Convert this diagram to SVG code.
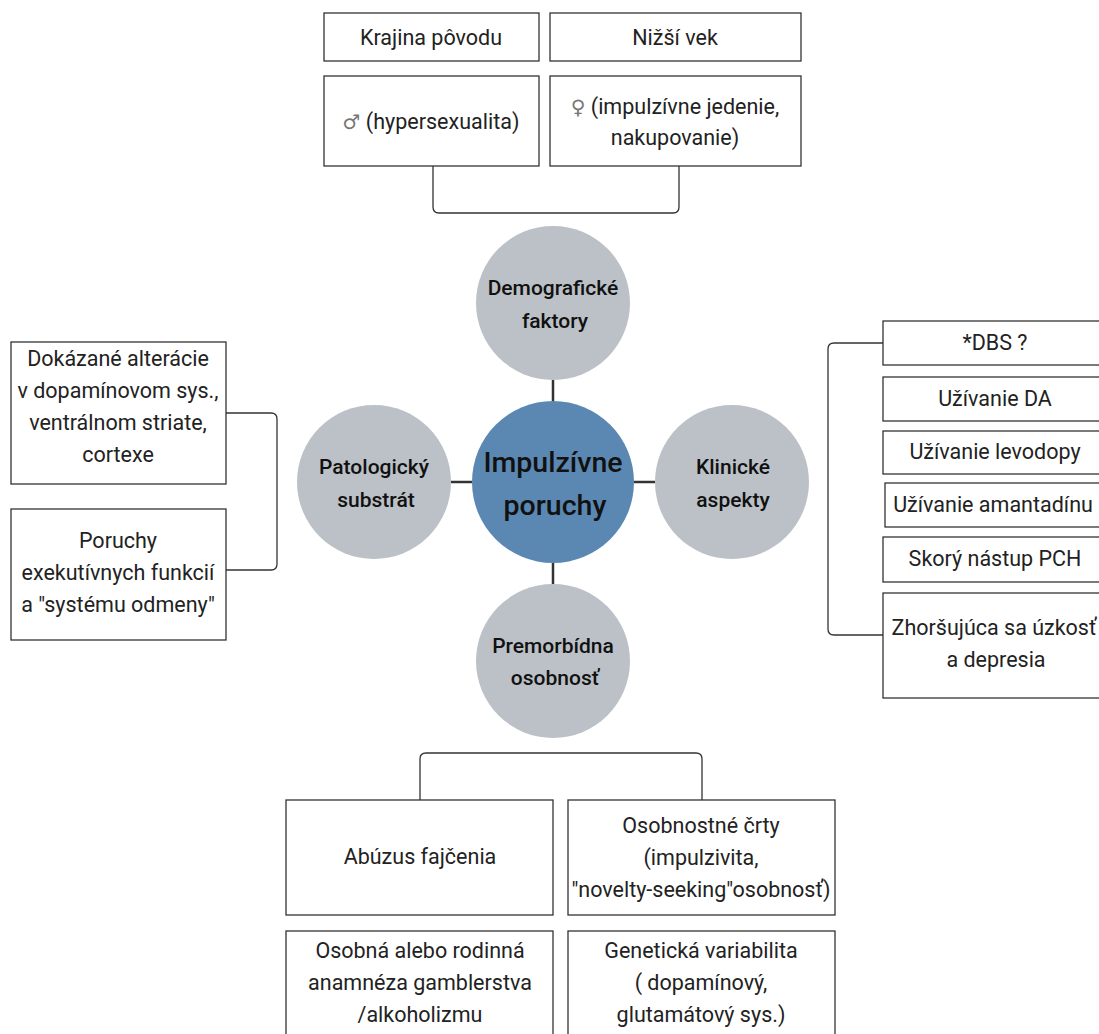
<svg xmlns="http://www.w3.org/2000/svg" width="1099" height="1034" viewBox="0 0 1099 1034">
<style>
.box{fill:#fff;stroke:#333;stroke-width:1.3}
.t{font-family:Roboto,"Liberation Sans",sans-serif;font-size:21.5px;fill:#222;text-anchor:middle}
.ct{font-family:Roboto,"Liberation Sans",sans-serif;font-size:21px;font-weight:500;fill:#111;text-anchor:middle}
.sym{fill:#777;font-family:"DejaVu Sans",sans-serif;font-size:20px}
.hub{fill:#5b88b3}
.sat{fill:#bcc1c7}
.link{stroke:#333;stroke-width:2.5;fill:none}
.br{stroke:#333;stroke-width:1.3;fill:none}
</style>
<rect width="1099" height="1034" fill="#fff"/>
<g id="connectors">
<line class="link" x1="553" y1="380" x2="553" y2="402"/>
<line class="link" x1="553" y1="563" x2="553" y2="585"/>
<line class="link" x1="451" y1="482" x2="472" y2="482"/>
<line class="link" x1="634" y1="482" x2="655" y2="482"/>
<path class="br" d="M433 166 V207 Q433 213 439 213 H673 Q679 213 679 207 V166"/>
<path class="br" d="M226 413 H271 Q277 413 277 419 V564 Q277 570 271 570 H226"/>
<path class="br" d="M883 343 H834 Q828 343 828 349 V629 Q828 635 834 635 H883"/>
<path class="br" d="M420 800 V759 Q420 753 426 753 H696 Q702 753 702 759 V800"/>
</g>
<g id="hub"><circle class="hub" cx="553" cy="482" r="81"/>
<text class="ct" style="font-size:28.5px" x="553" y="472">Impulzívne</text>
<text class="ct" style="font-size:28.5px" x="555" y="515">poruchy</text></g>
<g id="demograficke"><circle class="sat" cx="553" cy="303" r="77"/>
<text class="ct" x="553" y="295">Demografické</text><text class="ct" x="555" y="328">faktory</text></g>
<g id="patologicky"><circle class="sat" cx="374" cy="482" r="77"/>
<text class="ct" x="374" y="474">Patologický</text><text class="ct" x="376" y="507">substrát</text></g>
<g id="klinicke"><circle class="sat" cx="732" cy="482" r="77"/>
<text class="ct" x="733" y="474">Klinické</text><text class="ct" x="733" y="507">aspekty</text></g>
<g id="premorbidna"><circle class="sat" cx="553" cy="661" r="77"/>
<text class="ct" x="553" y="653">Premorbídna</text><text class="ct" x="555" y="685">osobnosť</text></g>
<g id="krajina"><rect class="box" x="324" y="13" width="215" height="48"/><text class="t" x="431" y="45">Krajina pôvodu</text></g>
<g id="nizsi"><rect class="box" x="550" y="13" width="251" height="48"/><text class="t" x="675" y="45">Nižší vek</text></g>
<g id="muz"><rect class="box" x="324" y="76" width="215" height="90"/><text class="t" x="431" y="129"><tspan class="sym">♂</tspan> (hypersexualita)</text></g>
<g id="zena"><rect class="box" x="550" y="76" width="251" height="90"/><text class="t" x="675" y="114"><tspan class="sym">♀</tspan> (impulzívne jedenie,</text><text class="t" x="675" y="145">nakupovanie)</text></g>
<g id="dokazane"><rect class="box" x="11" y="342" width="215" height="142"/>
<text class="t" x="118" y="366">Dokázané alterácie</text><text class="t" x="118" y="398">v dopamínovom sys.,</text><text class="t" x="118" y="430">ventrálnom striate,</text><text class="t" x="118" y="462">cortexe</text></g>
<g id="poruchy"><rect class="box" x="11" y="509" width="215" height="131"/>
<text class="t" x="118" y="548">Poruchy</text><text class="t" x="118" y="580">exekutívnych funkcií</text><text class="t" x="118" y="612">a "systému odmeny"</text></g>
<g id="dbs"><rect class="box" x="883" y="321" width="225" height="44"/><text class="t" x="995" y="350">*DBS ?</text></g>
<g id="da"><rect class="box" x="883" y="377" width="225" height="44"/><text class="t" x="995" y="406">Užívanie DA</text></g>
<g id="levodopa"><rect class="box" x="883" y="431" width="225" height="43"/><text class="t" x="995" y="459">Užívanie levodopy</text></g>
<g id="amantadin"><rect class="box" x="885" y="483" width="225" height="44"/><text class="t" x="993" y="512">Užívanie amantadínu</text></g>
<g id="skory"><rect class="box" x="883" y="537" width="225" height="45"/><text class="t" x="995" y="566">Skorý nástup PCH</text></g>
<g id="zhorsujuca"><rect class="box" x="883" y="593" width="225" height="105"/><text class="t" x="994" y="635">Zhoršujúca sa úzkosť</text><text class="t" x="996" y="667">a depresia</text></g>
<g id="abuzus"><rect class="box" x="286" y="800" width="267" height="115"/><text class="t" x="420" y="864">Abúzus fajčenia</text></g>
<g id="osobnostne"><rect class="box" x="568" y="800" width="267" height="115"/><text class="t" x="701" y="833">Osobnostné črty</text><text class="t" x="701" y="865">(impulzivita,</text><text class="t" x="701" y="897">"novelty-seeking"osobnosť)</text></g>
<g id="osobna"><rect class="box" x="286" y="931" width="267" height="120"/><text class="t" x="420" y="958">Osobná alebo rodinná</text><text class="t" x="420" y="990">anamnéza gamblerstva</text><text class="t" x="420" y="1022">/alkoholizmu</text></g>
<g id="geneticka"><rect class="box" x="568" y="931" width="267" height="120"/><text class="t" x="701" y="958">Genetická variabilita</text><text class="t" x="701" y="990">( dopamínový,</text><text class="t" x="701" y="1022">glutamátový sys.)</text></g>
</svg>
